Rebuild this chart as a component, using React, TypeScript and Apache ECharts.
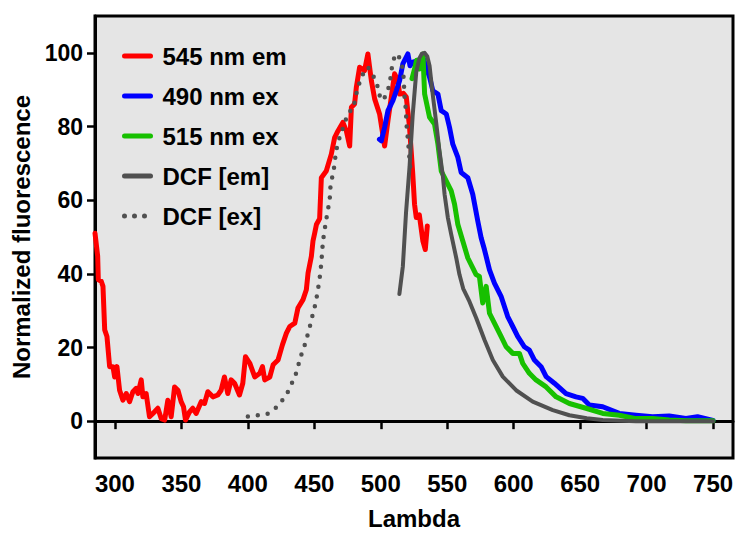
import React, { useEffect, useRef } from "react";
import * as echarts from "echarts";

const FONT = "'Liberation Sans', Arial, Helvetica, sans-serif";

const xTicks = [300, 350, 400, 450, 500, 550, 600, 650, 700, 750];
const yTicks = [0, 20, 40, 60, 80, 100];

const seriesNames = ["545 nm em", "490 nm ex", "515 nm ex", "DCF [em]", "DCF [ex]"];

const em545Lambda = [285, 287, 287.5, 289.7, 291, 292.3, 294, 296, 298.5, 299.8, 301.5, 303.5, 306, 308.5, 311, 313.5, 316, 317.3, 319.8, 321, 323.5, 326, 328.6, 332.3, 334.8, 337.4, 339.8, 342.3, 344.9, 347.4, 349.8, 351.6, 353.1, 356.1, 358.6, 361.1, 364.9, 367.4, 369.9, 373.7, 377.4, 379.9, 382.4, 384.9, 387.4, 390, 393.7, 396.2, 398.2, 401.5, 405.2, 409, 411, 412.7, 416.5, 419, 422.7, 426, 429, 431.5, 435.3, 437.7, 441.5, 444, 445.3, 447.8, 449, 450.3, 451.6, 454, 455.3, 459, 462.8, 465.3, 467.8, 471.5, 474.1, 476.6, 477.9, 480.3, 481.6, 484.1, 487.8, 490.3, 492.9, 495.4, 499.1, 502.9, 505.4, 507.9, 510.4, 512.9, 514.2, 517, 519.2, 521.6, 524, 525.4, 526.7, 529, 531.7, 533.5, 535];
const em545Values = [51, 44.8, 38.4, 38, 36.6, 24.8, 23, 14.8, 14.8, 12, 14.8, 8.4, 5.7, 7.5, 5.3, 8, 8.9, 7.5, 11.2, 6.6, 7.5, 1.2, 2.1, 3.5, 0.7, 0.3, 5.7, 1.2, 9.3, 8.4, 5.3, 3.9, 0.3, 2.5, 3.5, 2.1, 5.3, 4.8, 8, 6.6, 7.1, 8.4, 12, 7.5, 11.2, 10.3, 7.1, 10.3, 17.5, 15.7, 12, 13, 14.8, 11.2, 12, 15.3, 16.6, 20.7, 23.9, 25.7, 26.6, 30.7, 33, 35.7, 40.2, 44.8, 48.9, 51.1, 53.4, 55, 66.1, 67.9, 72.5, 77, 78.8, 81.1, 78.8, 74.7, 85.2, 86.1, 90.6, 96.1, 95.2, 99.7, 92.5, 87.5, 83.4, 74.7, 81.6, 87.9, 94.3, 92.5, 88.8, 89, 88, 80, 67.5, 58.9, 55.3, 56, 48.9, 46.6, 53];

const ex490Lambda = [499, 500.4, 502.9, 505.4, 509.1, 511.7, 514.2, 516.6, 520.4, 522, 524.1, 527.9, 531.7, 536.7, 539.2, 543, 545.5, 549.3, 551.7, 554.2, 558, 560.5, 565.5, 569.2, 573, 575.5, 578, 581.8, 585.5, 590.5, 595.5, 599.3, 603, 608, 611.8, 615.6, 620.6, 624.4, 630.6, 639.4, 646.9, 651.9, 656.9, 667, 679.4, 692, 704.5, 717, 729.6, 738.3, 750];
const ex490Values = [76.5, 76.1, 79.8, 84.3, 87, 89.7, 92.5, 97, 99.7, 96.5, 97.5, 97.9, 98.8, 93.4, 89.7, 88.8, 84.3, 83.4, 79.8, 75.2, 71.6, 67.5, 66.1, 61.6, 54.3, 49.8, 46.6, 41.1, 37.5, 33.9, 28.4, 25.7, 23, 20.2, 19.3, 16.6, 14.8, 12.1, 10.3, 7.5, 6.6, 6.2, 4.4, 3.9, 2.1, 1.6, 1.2, 1.4, 0.7, 1.2, 0.2];

const ex515Lambda = [523.5, 525.4, 527, 529, 531.7, 533, 536.7, 540.4, 543, 545.5, 549.3, 553, 555.5, 558, 561.7, 565.5, 569.2, 571.7, 574.2, 576.7, 579.3, 581.8, 585.5, 590.5, 594.3, 599.3, 604.3, 606.8, 611.8, 616.8, 624.4, 631.9, 641.9, 654.4, 667, 679.4, 692, 704.5, 717, 729.6, 750];
const ex515Values = [93, 95.6, 98, 95.6, 99.7, 88.8, 82.5, 80.7, 75.2, 67.9, 65.2, 62.5, 58.9, 53.4, 48.9, 44.3, 41.6, 39.8, 39.3, 32.1, 36.6, 29.3, 26.6, 23, 20.2, 18.4, 18.4, 15.7, 13, 11.2, 9.3, 6.6, 4.8, 3.5, 2.1, 1.6, 0.7, 0.7, 0.3, 0.1, 0.1];

const dcfEmLambda = [514, 516.6, 519, 521.7, 524, 526.7, 529, 531, 533, 535, 536.7, 539, 541.7, 544, 546.7, 548, 550.5, 553, 556.8, 559.2, 562, 566.7, 571.8, 578, 584.3, 591.8, 601.8, 614.3, 629.4, 641.9, 655, 667, 692, 750];
const dcfEmValues = [34.5, 42, 56.6, 69.3, 83, 94.8, 98.5, 99.8, 100, 99, 96.5, 89, 81, 73.8, 66.6, 61.6, 55.2, 50.7, 44.3, 39.8, 36, 32.5, 28, 22.1, 16.6, 12.1, 8.4, 5.3, 3, 1.6, 0.8, 0.3, 0, 0];

const dcfExLambda = [400, 407, 414.7, 421, 426, 430, 433.5, 436.5, 438.5, 440.7, 443.3, 445.3, 447.3, 449, 451, 452.3, 453.5, 454.6, 455.5, 456.5, 457.8, 459, 460.3, 461.6, 462, 463.3, 464.8, 465.8, 467, 469, 470.8, 473.4, 475.8, 479, 480.9, 482.4, 485, 488, 490.4, 493.6, 497.1, 498.6, 501.2, 504.2, 506.6, 508.7, 511, 513.6, 516.2, 517.2, 517.9, 518.7, 519.6, 520.4, 521.1, 521.7, 522.4];
const dcfExValues = [1.3, 1.6, 2, 3.6, 5.7, 7.9, 10.6, 13.2, 15.9, 18.6, 21.2, 23.9, 26.6, 29.3, 32, 34.8, 37.5, 40.4, 44, 48.9, 52, 54.8, 57.5, 60.2, 63.2, 65.9, 68.7, 71.6, 74.3, 77, 78.8, 81.6, 84, 84.5, 87.5, 90.2, 92.9, 95.4, 96.1, 94.3, 91.7, 88.8, 87, 88.6, 91.4, 96.8, 99.7, 99, 96.1, 93.3, 87.9, 85.2, 79.3, 76.6, 73.6, 70.7, 67.9];

const zip = (xs: number[], ys: number[]) => xs.map((x, i) => [x, ys[i]]);

export default function App() {
  const ref = useRef<HTMLDivElement>(null);
  useEffect(() => {
    if (!ref.current) return;
    const chart = echarts.init(ref.current, null, { renderer: "svg" });
    const lineSeries = (name: string, data: number[][], color: string, width: number, extra: any = {}) => ({
      name,
      type: "line",
      data,
      symbol: "none",
      showSymbol: false,
      lineStyle: {
        color,
        width,
        cap: "round",
        join: "round",
        type: extra.type ?? "solid",
      },
      itemStyle: { color },
      z: extra.z ?? 2,
    });
    chart.setOption({
      animation: false,
      backgroundColor: "#ffffff",
      textStyle: { fontFamily: FONT },
      grid: {
        left: 95,
        right: 5,
        top: 16,
        bottom: 78,
        show: true,
        backgroundColor: "#e5e5e5",
        borderColor: "#000",
        borderWidth: 3,
      },
      legend: {
        orient: "vertical",
        left: 122,
        top: 44,
        padding: 0,
        itemWidth: 26,
        itemHeight: 14,
        itemGap: 16,
        data: seriesNames,
        itemStyle: { opacity: 0, borderWidth: 0 },
        lineStyle: { width: 5, cap: "round" },
        textStyle: {
          fontFamily: FONT,
          fontSize: 24,
          fontWeight: "bold",
          color: "#000",
          padding: [0, 0, 0, 7],
        },
      },
      xAxis: {
        type: "value",
        min: 285,
        max: 765,
        name: "Lambda",
        nameLocation: "middle",
        nameGap: 48,
        nameTextStyle: { fontFamily: FONT, fontSize: 24, fontWeight: "bold", color: "#000" },
        axisLine: { show: true, lineStyle: { color: "#000", width: 3 } },
        axisTick: { show: true, length: 8, lineStyle: { color: "#000", width: 2.5 }, customValues: xTicks },
        axisLabel: { fontFamily: FONT, fontSize: 24, fontWeight: "bold", color: "#000", margin: 13, customValues: xTicks },
        splitLine: { show: false },
      },
      yAxis: {
        type: "value",
        min: -10,
        max: 110,
        name: "Normalized fluorescence",
        nameLocation: "middle",
        nameGap: 56,
        nameTextStyle: { fontFamily: FONT, fontSize: 24, fontWeight: "bold", color: "#000" },
        axisLine: { show: true, lineStyle: { color: "#000", width: 3 } },
        axisTick: { show: true, length: 8, lineStyle: { color: "#000", width: 2.5 }, customValues: yTicks },
        axisLabel: { fontFamily: FONT, fontSize: 23, fontWeight: "bold", color: "#000", margin: 12, customValues: yTicks },
        splitLine: { show: false },
      },
      series: [
        lineSeries(seriesNames[0], zip(em545Lambda, em545Values), "#ff0000", 5, { z: 2 }),
        lineSeries(seriesNames[1], zip(ex490Lambda, ex490Values), "#0000ff", 5, { z: 3 }),
        lineSeries(seriesNames[2], zip(ex515Lambda, ex515Values), "#17c000", 5, { z: 4 }),
        lineSeries(seriesNames[3], zip(dcfEmLambda, dcfEmValues), "#505050", 4, { z: 5 }),
        lineSeries(seriesNames[4], zip(dcfExLambda, dcfExValues), "#505050", 4.5, { z: 6, type: [0, 10] }),
      ],
    });
    return () => chart.dispose();
  }, []);
  return (
    <div
      ref={ref}
      style={{ position: "fixed", left: 0, top: 0, width: 738, height: 536 }}
    />
  );
}
